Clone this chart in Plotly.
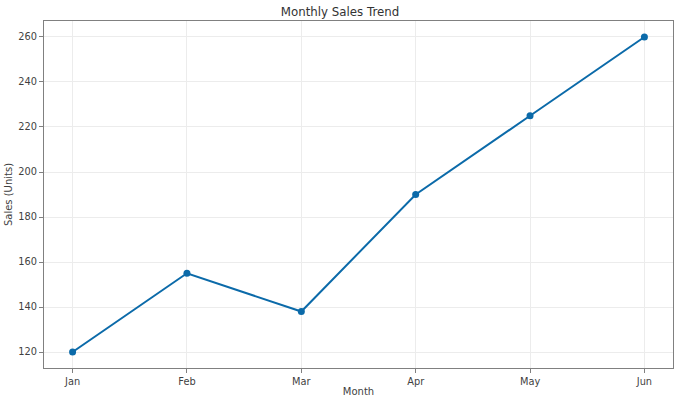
import plotly.graph_objects as go

months = ["Jan", "Feb", "Mar", "Apr", "May", "Jun"]
sales = [120, 155, 138, 190, 225, 260]
y_ticks = [120, 140, 160, 180, 200, 220, 240, 260]

line_color = "#0b6aa9"
text_color = "#3f3f3f"
tick_font = dict(family="DejaVu Sans", size=9.8, color=text_color)
label_font = dict(family="DejaVu Sans", size=10, color=text_color)

fig = go.Figure(go.Scatter(
    x=months,
    y=sales,
    mode="lines+markers",
    line=dict(color=line_color, width=2),
    marker=dict(color=line_color, size=7),
))

axis_common = dict(
    showline=True,
    linecolor="#808080",
    linewidth=1,
    mirror=True,
    showgrid=True,
    gridcolor="#ececec",
    gridwidth=1,
    ticks="outside",
    ticklen=4,
    tickcolor="#808080",
    tickfont=tick_font,
    zeroline=False,
    automargin=False,
)

fig.update_layout(
    width=680,
    height=404,
    paper_bgcolor="white",
    plot_bgcolor="white",
    margin=dict(l=44, r=7, t=21, b=36),
    title=dict(
        text="Monthly Sales Trend",
        x=0.5, xanchor="center",
        y=0.97, yanchor="middle",
        font=dict(family="DejaVu Sans", size=11.8, color="#333333"),
        automargin=False,
    ),
    showlegend=False,
    xaxis=dict(
        axis_common,
        range=[-0.25, 5.25],
        title=dict(text="Month", font=label_font, standoff=2),
    ),
    yaxis=dict(
        axis_common,
        range=[112.9, 267.1],
        tickvals=y_ticks,
        title=dict(text="Sales (Units)", font=label_font, standoff=3),
    ),
)

# page has a default 8px body margin; drop it so the figure fills the window
fig.write_html(
    "out.html",
    config={"displayModeBar": False},
    post_script="document.body.style.margin='0px';",
)
